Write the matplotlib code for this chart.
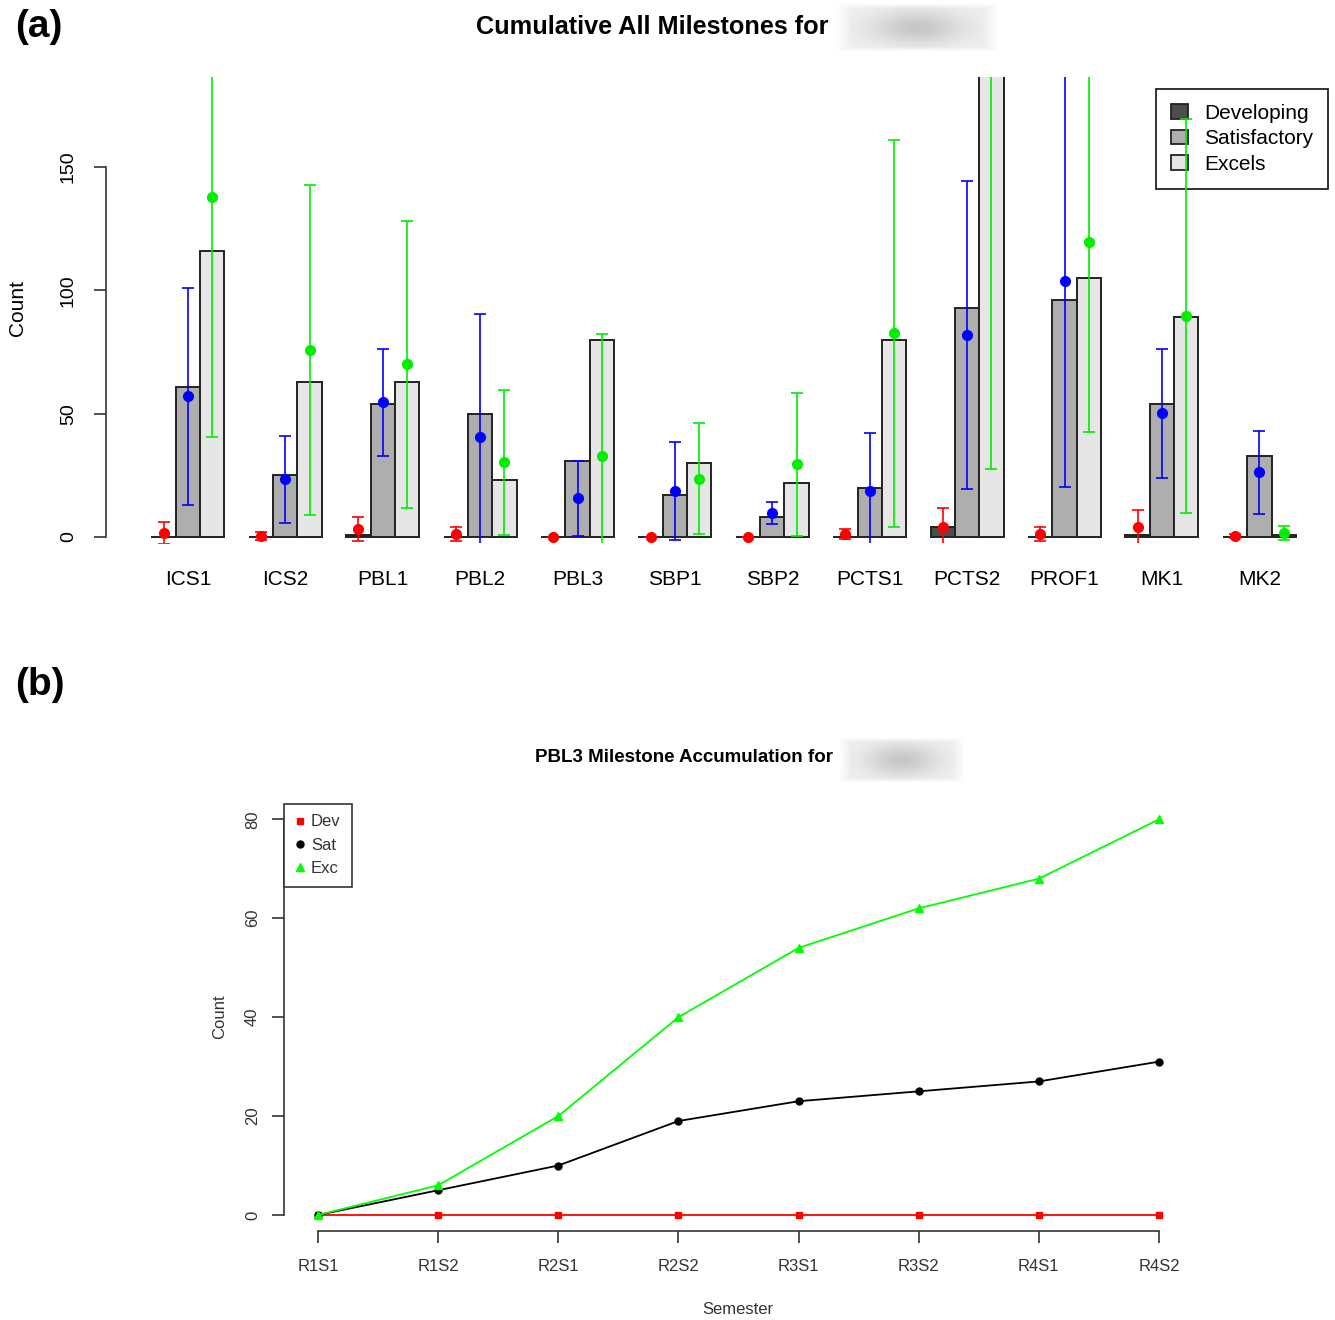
import numpy as np
import matplotlib
matplotlib.use("Agg")
import matplotlib.pyplot as plt
from matplotlib.patches import Patch
from matplotlib.lines import Line2D

# ---- panel (a) data ----
categories = ["ICS1", "ICS2", "PBL1", "PBL2", "PBL3", "SBP1",
              "SBP2", "PCTS1", "PCTS2", "PROF1", "MK1", "MK2"]
dev_count = [0, 0, 1, 0, 0, 0, 0, 0, 4, 0, 1, 0]
sat_count = [61, 25, 54, 50, 31, 17, 8, 20, 93, 96, 54, 33]
exc_count = [116, 63, 63, 23, 80, 30, 22, 80, 200, 105, 89, 1]

dev_mean = [1.5, 0.4, 3.2, 1.2, 0, 0, 0, 1.2, 3.9, 1.2, 3.9, 0.4]
dev_sd = [4.5, 1.5, 5.0, 2.9, 0, 0, 0, 2.0, 8.0, 2.9, 7.0, 0.8]
sat_mean = [57, 23.4, 54.6, 40.5, 15.7, 18.6, 9.6, 18.6, 81.9, 103.9, 50.1, 26.2]
sat_sd = [44, 17.6, 21.7, 49.9, 15.2, 19.8, 4.5, 23.4, 62.6, 83.8, 26.3, 16.9]
exc_mean = [137.7, 75.8, 70.0, 30.3, 32.8, 23.6, 29.5, 82.6, 215, 119.7, 89.6, 1.5]
exc_sd = [97.2, 67.0, 58.3, 29.3, 49.4, 22.5, 28.9, 78.5, 187.6, 77.0, 80.0, 2.9]

levels = ["Developing", "Satisfactory", "Excels"]
bar_colors = ["#4d4d4d", "#aeaeae", "#e6e6e6"]

# ---- panel (b) data ----
semesters = ["R1S1", "R1S2", "R2S1", "R2S2", "R3S1", "R3S2", "R4S1", "R4S2"]
pbl3_dev = [0, 0, 0, 0, 0, 0, 0, 0]
pbl3_sat = [0, 5, 10, 19, 23, 25, 27, 31]
pbl3_exc = [0, 6, 20, 40, 54, 62, 68, 80]

W, H = 1335, 1320
fig = plt.figure(figsize=(W / 100, H / 100), dpi=100)
plt.rcParams["font.family"] = ["Liberation Sans", "DejaVu Sans"]
EDGE = "#222222"
GREY_TXT = "#333333"


def fig_rect(x0, y0, x1, y1):
    # pixel box (top-left origin) -> figure fraction rect
    return [x0 / W, 1 - y1 / H, (x1 - x0) / W, (y1 - y0) / H]


def blur_box(x0, y0, x1, y1):
    # redacted name next to the titles
    bax = fig.add_axes(fig_rect(x0, y0, x1, y1))
    yy, xx = np.mgrid[0:1:60j, 0:1:120j]
    g = np.exp(-(((xx - 0.5) / 0.28) ** 2 + ((yy - 0.5) / 0.35) ** 2))
    fade = np.clip(np.minimum.reduce([xx, 1 - xx, yy, 1 - yy]) / 0.1, 0, 1)
    img = 1 - fade * (0.06 + 0.16 * g)
    bax.imshow(img, cmap="gray", vmin=0, vmax=1, aspect="auto", interpolation="bilinear")
    bax.axis("off")


# ================= panel (a) =================
ax = fig.add_axes(fig_rect(105.6, 77, 1329, 543.4))
group = np.arange(len(categories)) * 4
xs = [group + 1.5, group + 2.5, group + 3.5]
counts = [dev_count, sat_count, exc_count]
means = [dev_mean, sat_mean, exc_mean]
sds = [dev_sd, sat_sd, exc_sd]
err_colors = ["red", "blue", "#00ee00"]

for x, c, col in zip(xs, counts, bar_colors):
    ax.bar(x, c, width=1, color=col, edgecolor=EDGE, linewidth=1.4, zorder=1)

for x, m, s, col in zip(xs, means, sds, err_colors):
    ax.errorbar(x, m, yerr=s, fmt="o", color=col, ms=7, capsize=4.5,
                elinewidth=1.2, capthick=1.2, zorder=4)

ax.set_xlim(-0.879, 49.36)
ax.set_ylim(-2.6, 186.5)
for side in ["top", "right", "bottom"]:
    ax.spines[side].set_visible(False)
ax.spines["left"].set_bounds(0, 150)
ax.spines["left"].set_color(GREY_TXT)
ax.spines["left"].set_linewidth(1.2)
ax.set_yticks([0, 50, 100, 150])
ax.set_yticklabels(["0", "50", "100", "150"], rotation=90, va="center")
ax.tick_params(axis="y", length=8.6, width=1.2, pad=12, labelsize=14, color=GREY_TXT)
ax.set_xticks(xs[1])
ax.set_xticklabels(categories, fontsize=15)
ax.tick_params(axis="x", length=0, pad=19)

handles = [Patch(facecolor=c, edgecolor=EDGE, linewidth=1.3) for c in bar_colors]
leg = ax.legend(handles, levels, loc="upper right",
                bbox_to_anchor=(1328 / W, 1 - 89 / H), bbox_transform=fig.transFigure,
                borderaxespad=0, fancybox=False, edgecolor=EDGE, framealpha=1,
                fontsize=15, handlelength=0.85, handleheight=0.7, handletextpad=0.75,
                labelspacing=0.3, borderpad=0.72)
leg.get_frame().set_linewidth(1.3)
leg.set_zorder(2.5)

fig.text(17.5 / W, 1 - 308 / H, "Count", rotation=90, ha="center", va="center", fontsize=15)
fig.text(828 / W, 1 - 27 / H, "Cumulative All Milestones for", ha="right", va="center",
         fontsize=18.2, fontweight="bold")
blur_box(835, 3, 1000, 52)
fig.text(15 / W, 1 - 27 / H, "(a)", ha="left", va="center", fontsize=28, fontweight="bold")

# ================= panel (b) =================
ax2 = fig.add_axes(fig_rect(284.4, 803.5, 1192.6, 1230.8))
sx = np.arange(1, len(semesters) + 1)
ax2.plot(sx, pbl3_dev, color="red", marker="s", ms=5, lw=1.3)
ax2.plot(sx, pbl3_sat, color="black", marker="o", ms=5, lw=1.3)
ax2.plot(sx, pbl3_exc, color="#00ff00", marker="^", ms=6, lw=1.3)

ax2.set_xlim(0.72, 8.28)
ax2.set_ylim(-3.2, 83.2)
for side in ["top", "right"]:
    ax2.spines[side].set_visible(False)
ax2.spines["left"].set_bounds(0, 80)
ax2.spines["bottom"].set_bounds(1, 8)
for side in ["left", "bottom"]:
    ax2.spines[side].set_color(GREY_TXT)
    ax2.spines[side].set_linewidth(1.2)
ax2.set_xticks(sx)
ax2.set_xticklabels(semesters)
ax2.set_yticks([0, 20, 40, 60, 80])
ax2.set_yticklabels(["0", "20", "40", "60", "80"], rotation=90, va="center")
ax2.tick_params(length=8.5, width=1.2, color=GREY_TXT, labelsize=12, labelcolor=GREY_TXT)
ax2.tick_params(axis="x", pad=12)
ax2.tick_params(axis="y", pad=9)

mk = [Line2D([], [], color="red", marker="s", ls="none", ms=5),
      Line2D([], [], color="black", marker="o", ls="none", ms=5),
      Line2D([], [], color="#00ff00", marker="^", ls="none", ms=6)]
leg2 = ax2.legend(mk, ["Dev", "Sat", "Exc"], loc="upper left",
                  bbox_to_anchor=(284.4 / W, 1 - 803.5 / H), bbox_transform=fig.transFigure,
                  borderaxespad=0, fancybox=False, edgecolor=GREY_TXT, framealpha=1,
                  fontsize=12, handlelength=0.6, handletextpad=0.35,
                  labelspacing=0.5, borderpad=0.65)
leg2.get_frame().set_linewidth(1.2)
for t in leg2.get_texts():
    t.set_color(GREY_TXT)

fig.text(738 / W, 1 - 1310 / H, "Semester", ha="center", va="center", fontsize=12,
         color=GREY_TXT)
fig.text(220 / W, 1 - 1017 / H, "Count", rotation=90, ha="center", va="center",
         fontsize=12, color=GREY_TXT)
fig.text(833 / W, 1 - 757 / H, "PBL3 Milestone Accumulation for", ha="right", va="center",
         fontsize=13.5, fontweight="bold")
blur_box(838, 737, 965, 783)
fig.text(15 / W, 1 - 685 / H, "(b)", ha="left", va="center", fontsize=28, fontweight="bold")

fig.savefig("out.png", dpi=100)
plt.close(fig)
